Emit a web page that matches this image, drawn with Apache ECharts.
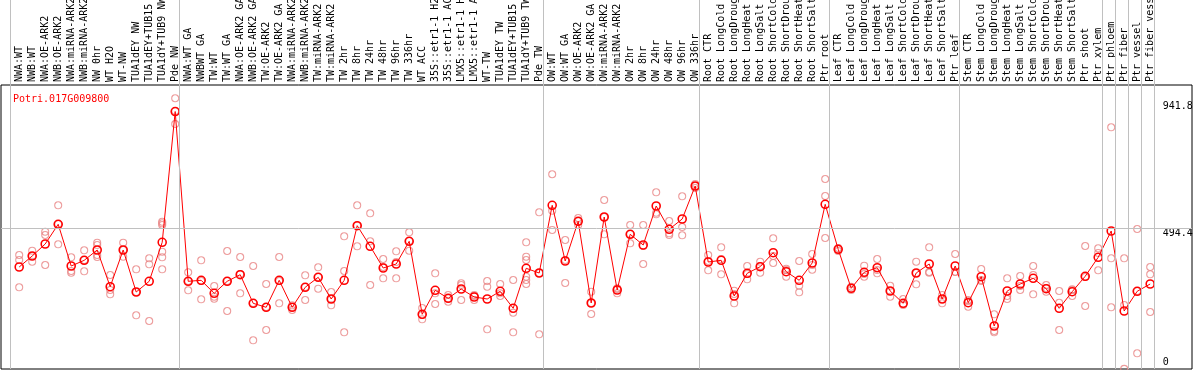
<!DOCTYPE html>
<html>
<head>
<meta charset="utf-8">
<script src="https://cdn.jsdelivr.net/npm/echarts@6/dist/echarts.min.js"></script>
<style>
html,body{margin:0;padding:0;background:#fff;}
#chart{width:1194px;height:370px;}
</style>
</head>
<body>
<div id="chart"></div>
<script>
const geneId = 'Potri.017G009800';
const categories = [
 'NWA:WT','NWB:WT','NWA:OE-ARK2','NWB:OE-ARK2','NWA:miRNA-ARK2','NWB:miRNA-ARK2','NW 0hr','WT H2O','WT-NW','TUA1dEY NW',
 'TUA1dEY+TUB15 NW','TUA1dY+TUB9 NW','Pde NW','NWA:WT GA','NWBWT GA','TW:WT','TW:WT GA','NWA:OE-ARK2 GA','NWB:OE-ARK2 GA','TW:OE-ARK2',
 'TW:OE-ARK2 GA','NWA:miRNA-ARK2 GA','NWB:miRNA-ARK2 GA','TW:miRNA-ARK2','TW:miRNA-ARK2 GA','TW 2hr','TW 8hr','TW 24hr','TW 48hr','TW 96hr',
 'TW 336hr','WT ACC','35S::etr1-1 H2O','35S::etr1-1 ACC','LMX5::etr1-1 H2O','LMX5::etr1-1 ACC','WT-TW','TUA1dEY TW','TUA1dEY+TUB15 TW','TUA1dY+TUB9 TW',
 'Pde TW','OW:WT','OW:WT GA','OW:OE-ARK2','OW:OE-ARK2 GA','OW:miRNA-ARK2','OW:miRNA-ARK2 GA','OW 2hr','OW 8hr','OW 24hr',
 'OW 48hr','OW 96hr','OW 336hr','Root CTR','Root LongCold','Root LongDrought','Root LongHeat','Root LongSalt','Root ShortCold','Root ShortDrought',
 'Root ShortHeat','Root ShortSalt','Ptr root','Leaf CTR','Leaf LongCold','Leaf LongDrought','Leaf LongHeat','Leaf LongSalt','Leaf ShortCold','Leaf ShortDrought',
 'Leaf ShortHeat','Leaf ShortSalt','Ptr leaf','Stem CTR','Stem LongCold','Stem LongDrought','Stem LongHeat','Stem LongSalt','Stem ShortCold','Stem ShortDrought',
 'Stem ShortHeat','Stem ShortSalt','Ptr shoot','Ptr xylem','Ptr phloem','Ptr fiber','Ptr vessel','Ptr fiber vessel'
];
const meanValues = [
 346.3, 388.4, 434.4, 509.8, 350.1, 371.9, 411.4, 270.8, 411.4, 250.5,
 291.5, 440.9, 941.8, 291.5, 295.3, 245.5, 291.5, 316.8, 207.2, 191.9,
 295.3, 191.9, 268.5, 306.8, 223.7, 295.3, 504.5, 425.6, 342.4, 357.8,
 444.7, 165.1, 257.0, 226.4, 262.0, 231.4, 223.7, 253.2, 188.1, 341.3,
 323.3, 582.6, 369.3, 521.3, 208.4, 537.8, 258.2, 471.5, 430.5, 579.9,
 490.7, 530.1, 656.5, 365.4, 371.9, 235.2, 322.1, 347.4, 401.1, 328.3,
 295.3, 361.6, 586.4, 414.1, 264.7, 326.0, 343.6, 254.3, 207.2, 323.3,
 357.8, 223.7, 350.1, 209.5, 309.1, 120.3, 254.3, 281.2, 303.0, 263.2,
 188.1, 251.7, 310.7, 383.4, 484.2, 177.7, 253.2, 281.2
];
const replicateValues = [
 [392.2,373.1,268.5],[408.7,388.4,366.6],[481.5,468.9,353.9],[582.6,511.0,433.2],[383.4,331.0,324.4],
 [410.2,373.1,329.8],[439.4,430.5,392.2,384.5],[315.6,258.2,241.7],[439.4,411.4,385.7],[337.5,250.5,161.3],
 [379.6,356.6,139.4],[519.8,513.7,507.2,404.9,383.4,337.5],[992.5,943.8,894.0],[326.0,292.7,257.0],[371.9,292.7,222.6],
 [273.5,232.5,224.8],[407.6,292.7,177.7],[384.6,319.5,245.5],[350.1,208.4,65.5],[281.2,193.1,105.0],
 [384.6,292.7,207.2],[199.6,193.1,181.6],[314.5,269.7,219.9],[345.1,308.0,263.2],[250.5,223.7,199.6],
 [463.9,331.0,96.1],[582.6,505.2,425.6],[552.0,444.7,277.3],[376.9,346.3,303.0],[406.4,365.4,303.0],
 [479.2,445.9,408.7],[189.2,162.4,145.9],[322.1,245.5,204.5],[239.0,226.4,213.4],[283.8,277.3,219.9],
 [239.0,235.2,219.9],[292.7,270.8,107.6],[281.2,245.5,235.2],[296.5,171.2,96.1],[440.9,385.7,373.1,309.1,296.5,281.2],
 [555.8,323.3,88.5],[701.4,561.9,488.0],[449.7,373.1,285.0],[534.0,521.3,507.2],[251.7,208.4,166.2],
 [602.9,537.8,471.5],[264.7,262.0,245.5],[507.2,472.7,437.1],[507.2,426.7,357.8],[632.4,554.3,548.1],
 [522.5,475.4,468.9],[617.1,499.5,467.7],[664.2,656.5,648.9],[392.2,369.3,333.6],[421.7,376.9,318.3],
 [255.5,242.9,207.2],[350.1,319.5,299.2],[366.6,350.1,324.4],[456.2,388.4,361.6],[339.8,334.8,309.1],
 [369.3,274.6,249.4],[396.1,353.9,335.9],[683.4,618.2,457.4],[419.1,414.1,407.6],[270.8,264.7,258.2],
 [351.3,319.5,309.1],[376.9,334.8,322.1],[274.6,254.3,232.5],[223.7,204.5,200.7],[366.6,323.3,280.0],
 [421.7,327.1,324.4],[239.0,223.7,207.2],[396.1,328.3,327.1],[219.9,216.0,194.2],[338.6,296.5,292.7],
 [165.1,101.1,96.1],[303.0,235.2,223.7],[311.8,273.5,258.2],[350.1,315.6,241.7],[277.3,265.8,251.7],
 [254.3,209.5,105.0],[260.9,258.2,235.2],[426.7,308.0,196.9],[417.9,399.9,333.6],[881.4,379.6,191.9],
 [379.6,200.7,-44.0],[491.8,254.3,15.7],[346.3,318.3,173.9]
];
const yTickValues = [0, 494.4, 941.8];
const gridLineValues = [494.4];
const groupBoundaries = [0, 13, 41, 53, 63, 73, 84, 85, 86, 87, 88];

const yMin = -44.4, yMax = 1043.4;
const FONT = 'DejaVu Sans Mono';
const topTick = Math.max(...yTickValues);
const upperTicks = yTickValues.filter(v => v === topTick);
const lowerTicks = yTickValues.filter(v => v !== topTick);

const replicatePoints = [];
replicateValues.forEach((arr, i) => arr.forEach(v => replicatePoints.push([i, v])));

const chart = echarts.init(document.getElementById('chart'), null, {renderer: 'canvas'});
const hiddenVal = {type: 'value', show: false};
const noBounds = {containLabel: false, outerBoundsMode: 'none'};
chart.setOption({
  animation: false,
  backgroundColor: '#fff',
  title: {
    text: geneId, left: 8, top: 89,
    textStyle: {color: '#ff0000', fontFamily: FONT, fontSize: 10, fontWeight: 'normal'}
  },
  grid: [
    Object.assign({left: 12.7, top: 85, width: 1144, height: 284}, noBounds),
    Object.assign({left: 10.7, top: 0, width: 1144, height: 369}, noBounds),
    Object.assign({left: 1, top: 85, width: 1191, height: 284, show: true, borderColor: '#000', borderWidth: 1, backgroundColor: 'transparent'}, noBounds)
  ],
  xAxis: [
    {
      type: 'category', gridIndex: 0, position: 'top', data: categories, boundaryGap: true,
      axisLine: {show: false}, axisTick: {show: false}, splitLine: {show: false},
      axisLabel: {interval: 0, rotate: 90, margin: 3, color: '#000', fontFamily: FONT, fontSize: 10, hideOverlap: false}
    },
    Object.assign({gridIndex: 1, min: 0, max: categories.length}, hiddenVal),
    Object.assign({gridIndex: 2, min: 0, max: 1}, hiddenVal)
  ],
  yAxis: [
    {
      type: 'value', gridIndex: 0, position: 'right', min: yMin, max: yMax,
      axisLine: {show: false}, axisTick: {show: false}, splitLine: {show: false},
      axisLabel: {customValues: upperTicks, margin: 6, color: '#000', fontFamily: FONT, fontSize: 10,
        align: 'left', verticalAlign: 'bottom', formatter: v => String(v)}
    },
    {
      type: 'value', gridIndex: 0, position: 'right', min: yMin, max: yMax,
      axisLine: {show: false}, axisTick: {show: false}, splitLine: {show: false},
      axisLabel: {customValues: lowerTicks, margin: 6, color: '#000', fontFamily: FONT, fontSize: 10,
        align: 'left', verticalAlign: 'top', formatter: v => String(v)}
    },
    Object.assign({gridIndex: 1, min: 0, max: 1}, hiddenVal),
    Object.assign({gridIndex: 2, min: yMin, max: yMax}, hiddenVal)
  ],
  series: [
    {
      type: 'line', xAxisIndex: 1, yAxisIndex: 2, data: [], silent: true, z: 1,
      markLine: {silent: true, symbol: ['none', 'none'], label: {show: false}, animation: false,
        lineStyle: {color: '#c0c0c0', width: 1, type: 'solid'},
        data: groupBoundaries.map(b => ({xAxis: b}))}
    },
    {
      type: 'line', xAxisIndex: 2, yAxisIndex: 3, data: [], silent: true, z: 1,
      markLine: {silent: true, symbol: ['none', 'none'], label: {show: false}, animation: false,
        lineStyle: {color: '#c0c0c0', width: 1, type: 'solid'},
        data: gridLineValues.map(v => ({yAxis: v}))}
    },
    {
      name: 'replicates', type: 'scatter', xAxisIndex: 0, yAxisIndex: 0, data: replicatePoints,
      symbol: 'circle', symbolSize: 7, silent: true, z: 3,
      itemStyle: {color: 'rgba(0,0,0,0)', borderColor: '#e98484', borderWidth: 1.1}
    },
    {
      name: 'mean', type: 'line', xAxisIndex: 0, yAxisIndex: 0, data: meanValues,
      symbol: 'circle', symbolSize: 8, showSymbol: true, silent: true, z: 4,
      lineStyle: {color: '#ff0000', width: 1},
      itemStyle: {color: 'rgba(0,0,0,0)', borderColor: '#ff0000', borderWidth: 1.6}
    }
  ]
});
</script>
</body>
</html>
